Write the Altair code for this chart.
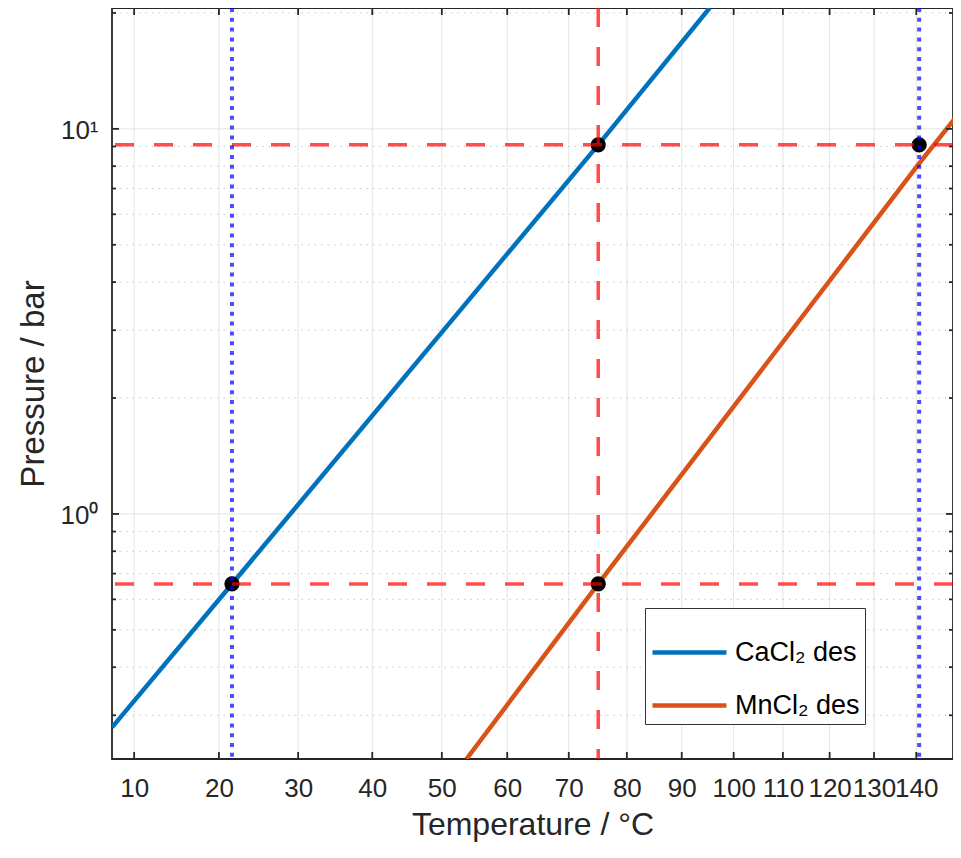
import altair as alt
import pandas as pd

# ---- data (temperatures in °C, pressures in bar) ----
ca_T = [7.5, 21.6, 75.0, 95.3]
ca_P = [0.279, 0.658, 9.09, 20.6]
mn_T = [53.7, 75.0, 140.7, 149.6]
mn_P = [0.231, 0.658, 8.13, 10.64]
series_names = ["CaCl₂ des", "MnCl₂ des"]
series_colors = ["#0072BD", "#D95319"]

pt_T = [21.6, 75.0, 75.0, 140.7]
pt_P = [0.658, 9.09, 0.658, 9.09]

red_h_P = [0.658, 9.09]
red_v_T = [75.0]
blue_v_T = [21.6, 140.7]

x_ticks_C = [10, 20, 30, 40, 50, 60, 70, 80, 90, 100, 110, 120, 130, 140]
y_major = [1, 10]
y_minor = [0.3, 0.4, 0.5, 0.6, 0.7, 0.8, 0.9, 2, 3, 4, 5, 6, 7, 8, 9, 20]
x_domain_C = [7.5, 149.1]
y_domain = [0.231, 20.6]

W, H = 841, 751
K0 = 273.15

curves = pd.DataFrame({
    "T": ca_T + mn_T,
    "P": ca_P + mn_P,
    "series": [series_names[0]] * len(ca_T) + [series_names[1]] * len(mn_T),
    "order": list(range(len(ca_T))) + list(range(len(mn_T))),
})
points = pd.DataFrame({"T": pt_T, "P": pt_P})
xt = pd.DataFrame({"T": x_ticks_C})
ymaj = pd.DataFrame({"P": y_major})
ymin = pd.DataFrame({"P": y_minor})

AX = "#262626"
GRID = "#e3e3e3"

xscale = alt.Scale(type="pow", exponent=-1, domain=[t + K0 for t in x_domain_C], nice=False, zero=False)
yscale = alt.Scale(type="log", domain=y_domain, nice=False)

x_axis = alt.Axis(
    values=[t + K0 for t in x_ticks_C],
    labelExpr=f"round(datum.value - {K0})",
    ticks=False, tickSize=0, domain=False, grid=False,
    labelPadding=16, labelOverlap=False, labelFlush=False,
    labelFontSize=26, labelColor=AX, labelFont="Liberation Sans",
    title="Temperature / °C", titleFontSize=32, titleFontWeight="normal",
    titleColor=AX, titleFont="Liberation Sans", titlePadding=8,
)
y_axis = alt.Axis(
    values=y_major,
    labelExpr="datum.value == 1 ? '10⁰' : '10¹'",
    ticks=False, tickSize=0, domain=False, grid=False,
    labelPadding=14, labelFontSize=26, labelColor=AX, labelFont="Liberation Sans",
    labelOffset=2,
    title="Pressure / bar", titleFontSize=33, titleFontWeight="normal",
    titleColor=AX, titleFont="Liberation Sans", titlePadding=10,
)

def X():
    return alt.X("K:Q", scale=xscale, axis=x_axis)

def Y():
    return alt.Y("P:Q", scale=yscale, axis=y_axis)

calcK = dict(K=f"datum.T + {K0}")

# grid
xgrid = alt.Chart(xt).transform_calculate(**calcK).mark_rule(color=GRID, strokeWidth=1).encode(x=X())
ygrid_major = alt.Chart(ymaj).mark_rule(color=GRID, strokeWidth=1).encode(y=Y())
ygrid_minor = alt.Chart(ymin).mark_rule(color="#c8c8c8", strokeWidth=1, strokeDash=[1.5, 5]).encode(y=Y())

# curves
lines = alt.Chart(curves).transform_calculate(**calcK).mark_line(strokeWidth=4.5, clip=True).encode(
    x=X(),
    y=Y(),
    order="order:Q",
    color=alt.Color(
        "series:N",
        scale=alt.Scale(domain=series_names, range=series_colors),
        legend=alt.Legend(
            title=None, orient="none", legendX=533, legendY=600,
            fillColor="white", strokeColor="#333333", padding=5,
            symbolType="stroke", symbolSize=5476, symbolStrokeWidth=4.5,
            labelFontSize=27, labelColor="black", labelFont="Liberation Sans",
            rowPadding=0, labelOffset=6,
        ),
    ),
)

dots = alt.Chart(points).transform_calculate(**calcK).mark_circle(size=230, color="black", opacity=1).encode(x=X(), y=Y())

red_h = alt.Chart(pd.DataFrame({"P": red_h_P})).mark_rule(color="red", opacity=0.7, strokeWidth=3.5, strokeDash=[19, 20]).encode(y=Y())
red_v = alt.Chart(pd.DataFrame({"T": red_v_T})).transform_calculate(**calcK).mark_rule(color="red", opacity=0.7, strokeWidth=3.5, strokeDash=[19, 20]).encode(x=X())
blue_v = alt.Chart(pd.DataFrame({"T": blue_v_T})).transform_calculate(**calcK).mark_rule(color="blue", opacity=0.7, strokeWidth=4, strokeDash=[4, 5.8]).encode(x=X())

# inward ticks on all four sides
tb = alt.Chart(xt).transform_calculate(**calcK).mark_rule(color=AX, strokeWidth=1.8).encode(x=X(), y=alt.value(H), y2=alt.value(H - 7))
tt = alt.Chart(xt).transform_calculate(**calcK).mark_rule(color=AX, strokeWidth=1.8).encode(x=X(), y=alt.value(0), y2=alt.value(7))
tl_major = alt.Chart(ymaj).mark_rule(color=AX, strokeWidth=1.8).encode(y=Y(), x=alt.value(0), x2=alt.value(7))
tr_major = alt.Chart(ymaj).mark_rule(color=AX, strokeWidth=1.8).encode(y=Y(), x=alt.value(W), x2=alt.value(W - 7))
tl_minor = alt.Chart(ymin).mark_rule(color=AX, strokeWidth=1.8).encode(y=Y(), x=alt.value(0), x2=alt.value(4))
tr_minor = alt.Chart(ymin).mark_rule(color=AX, strokeWidth=1.8).encode(y=Y(), x=alt.value(W), x2=alt.value(W - 4))

chart = alt.layer(
    xgrid, ygrid_major, ygrid_minor,
    lines, dots, red_h, red_v, blue_v,
    tb, tt, tl_major, tr_major, tl_minor, tr_minor,
).properties(
    width=W, height=H,
    autosize=alt.AutoSizeParams(type="none"),
    padding={"left": 104, "top": 0, "right": 0, "bottom": 85},
).configure(
    background="white",
).configure_view(stroke=AX, strokeWidth=1.8)

chart.save("out.html", embed_options={"renderer": "svg", "actions": False})
